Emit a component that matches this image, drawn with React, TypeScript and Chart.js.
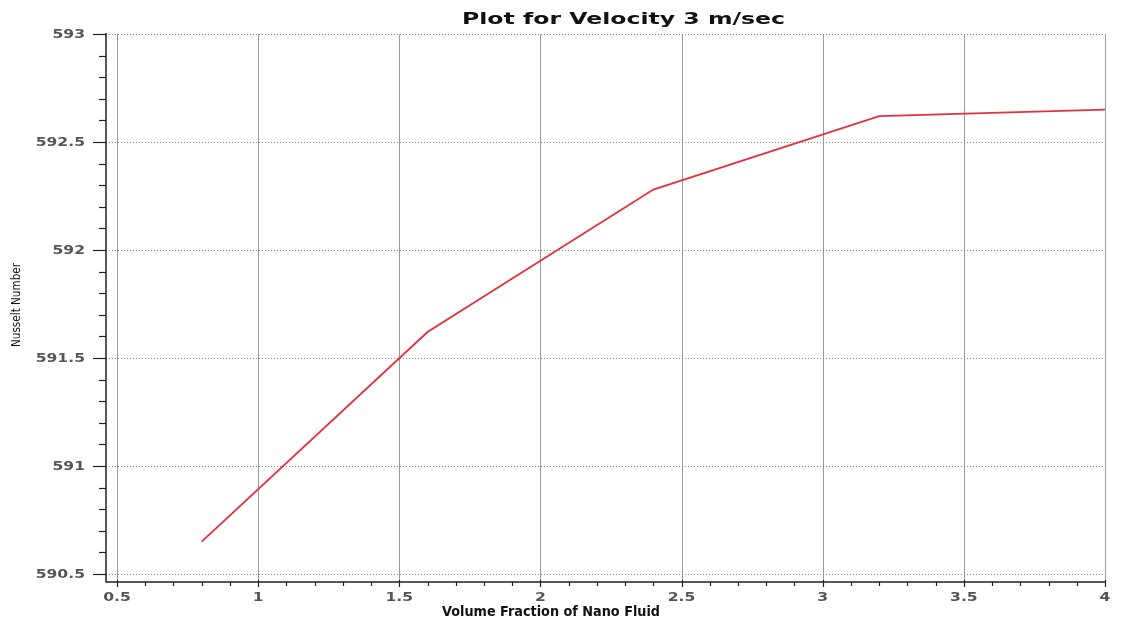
import React, { useEffect, useRef } from "react";
import { Chart, registerables } from "chart.js";

Chart.register(...registerables);

// Volume fraction of nano fluid (x) and Nusselt number (y)
const volumeFraction = [0.8, 1.6, 2.4, 3.2, 4.0];
const nusseltNumber = [590.65, 591.62, 592.28, 592.62, 592.65];

// Axis ticks
const xMajorTicks = [0.5, 1, 1.5, 2, 2.5, 3, 3.5, 4];
const xTickLabels = ["0.5", "1", "1.5", "2", "2.5", "3", "3.5", "4"];
const yMajorTicks = [590.5, 591, 591.5, 592, 592.5, 593];
const yTickLabels = ["590.5", "591", "591.5", "592", "592.5", "593"];

const chartTitle = "Plot for Velocity 3 m/sec";
const xAxisTitle = "Volume Fraction of Nano Fluid";
const yAxisTitle = "Nusselt Number";

const W = 1126;
const H = 621;

// Draw text stretched horizontally so it spans a given width.
function drawStretched(
  ctx: CanvasRenderingContext2D,
  text: string,
  left: number,
  y: number,
  width: number
) {
  const w = ctx.measureText(text).width;
  const sx = width / w;
  ctx.save();
  ctx.translate(left, y);
  ctx.scale(sx, 1);
  ctx.textAlign = "left";
  ctx.fillText(text, 0, 0);
  ctx.restore();
}

// Draw text with a fixed horizontal stretch factor, aligned by anchor.
function drawScaled(
  ctx: CanvasRenderingContext2D,
  text: string,
  anchorX: number,
  y: number,
  sx: number,
  align: "right" | "center"
) {
  const w = ctx.measureText(text).width * sx;
  const left = align === "right" ? anchorX - w : anchorX - w / 2;
  ctx.save();
  ctx.translate(left, y);
  ctx.scale(sx, 1);
  ctx.textAlign = "left";
  ctx.fillText(text, 0, 0);
  ctx.restore();
}

const axesPlugin = {
  id: "plotFrame",
  beforeDatasetsDraw(chart: any) {
    const { ctx, chartArea, scales } = chart;
    const x = scales.x;
    const y = scales.y;
    ctx.save();
    // vertical solid grid lines
    ctx.strokeStyle = "#9a9a9a";
    ctx.lineWidth = 1;
    ctx.setLineDash([]);
    xMajorTicks.forEach((v) => {
      const px = Math.round(x.getPixelForValue(v)) + 0.5;
      ctx.beginPath();
      ctx.moveTo(px, chartArea.top);
      ctx.lineTo(px, chartArea.bottom);
      ctx.stroke();
    });
    // horizontal dotted grid lines
    ctx.strokeStyle = "#8c8c8c";
    ctx.setLineDash([1, 2]);
    yMajorTicks.forEach((v) => {
      const py = Math.round(y.getPixelForValue(v)) + 0.5;
      ctx.beginPath();
      ctx.moveTo(chartArea.left, py);
      ctx.lineTo(chartArea.right, py);
      ctx.stroke();
    });
    ctx.restore();
  },
  afterDatasetsDraw(chart: any) {
    const { ctx, chartArea, scales } = chart;
    const x = scales.x;
    const y = scales.y;
    ctx.save();
    ctx.setLineDash([]);
    ctx.strokeStyle = "#222";
    ctx.lineWidth = 1.5;
    // axis lines
    ctx.beginPath();
    ctx.moveTo(chartArea.left, chartArea.top - 1);
    ctx.lineTo(chartArea.left, chartArea.bottom);
    ctx.lineTo(chartArea.right + 1, chartArea.bottom);
    ctx.stroke();

    ctx.lineWidth = 1.2;
    // y ticks (major + 4 minor between)
    for (let i = 0; i <= 25; i++) {
      const v = 590.5 + i * 0.1;
      const py = Math.round(y.getPixelForValue(v)) + 0.5;
      const major = i % 5 === 0;
      ctx.beginPath();
      ctx.moveTo(chartArea.left - (major ? 13 : 7), py);
      ctx.lineTo(chartArea.left, py);
      ctx.stroke();
    }
    // x ticks
    for (let i = 0; i <= 35; i++) {
      const v = 0.5 + i * 0.1;
      const px = Math.round(x.getPixelForValue(v)) + 0.5;
      const major = i % 5 === 0;
      ctx.beginPath();
      ctx.moveTo(px, chartArea.bottom - (major ? 2 : 0));
      ctx.lineTo(px, chartArea.bottom + (major ? 5 : 4));
      ctx.stroke();
    }

    // tick labels
    ctx.fillStyle = "#555";
    ctx.font = "bold 12px 'DejaVu Sans'";
    ctx.textBaseline = "middle";
    const sx = 1.3;
    yMajorTicks.forEach((v, i) => {
      drawScaled(ctx, yTickLabels[i], 85, y.getPixelForValue(v) + 1, sx, "right");
    });
    xMajorTicks.forEach((v, i) => {
      drawScaled(ctx, xTickLabels[i], x.getPixelForValue(v), 598, sx, "center");
    });

    // chart title
    ctx.fillStyle = "#111";
    ctx.textBaseline = "alphabetic";
    ctx.font = "bold 15px 'DejaVu Sans'";
    drawStretched(ctx, chartTitle, 462, 24, 323);

    // x axis title
    ctx.font = "bold 14px 'DejaVu Sans'";
    drawStretched(ctx, xAxisTitle, 442, 616, 218);

    // y axis title (rotated)
    ctx.save();
    ctx.translate(20, 305);
    ctx.rotate(-Math.PI / 2);
    ctx.font = "12px 'Liberation Sans Narrow', 'DejaVu Sans Condensed', sans-serif";
    ctx.fillStyle = "#111";
    drawStretched(ctx, yAxisTitle, -42, 0, 84);
    ctx.restore();

    ctx.restore();
  },
};

export default function App() {
  const canvasRef = useRef<HTMLCanvasElement | null>(null);

  useEffect(() => {
    document.body.style.margin = "0";
    const canvas = canvasRef.current;
    if (!canvas) return;
    const chart = new Chart(canvas, {
      type: "line",
      data: {
        datasets: [
          {
            label: yAxisTitle,
            data: volumeFraction.map((v, i) => ({ x: v, y: nusseltNumber[i] })),
            borderColor: "#e2303c",
            borderWidth: 1.8,
            pointRadius: 0,
            tension: 0,
            fill: false,
          },
        ],
      },
      options: {
        responsive: false,
        animation: false,
        devicePixelRatio: 1,
        layout: { padding: { left: 106, right: W - 1105, top: 34, bottom: H - 582 } },
        plugins: {
          legend: { display: false },
          title: { display: false },
          tooltip: { enabled: false },
        },
        scales: {
          x: { type: "linear", min: 0.461, max: 4.0, display: false },
          y: { type: "linear", min: 590.463, max: 593, display: false },
        },
      },
      plugins: [axesPlugin],
    });
    return () => chart.destroy();
  }, []);

  return (
    <div style={{ width: W, height: H, background: "#fff" }}>
      <canvas ref={canvasRef} width={W} height={H} style={{ display: "block" }} />
    </div>
  );
}
